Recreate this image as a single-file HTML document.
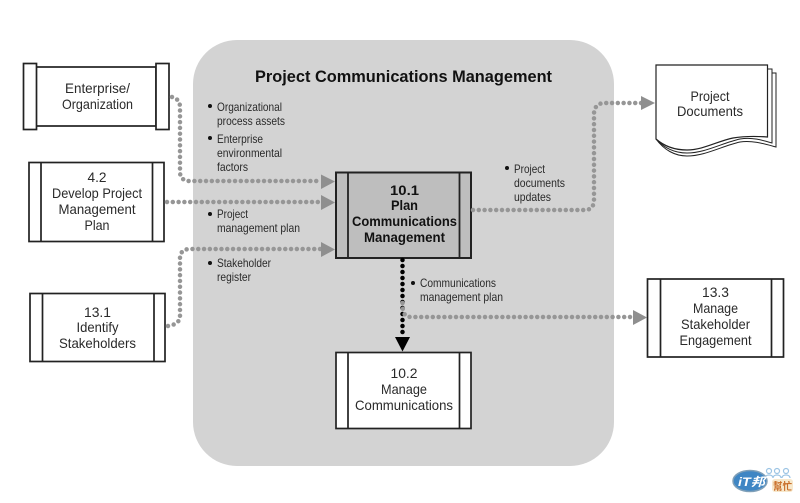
<!DOCTYPE html>
<html><head><meta charset="utf-8"><style>
html,body{margin:0;padding:0;background:#fff}
svg{display:block}
text{font-family:"Liberation Sans","Noto Sans CJK TC",sans-serif;fill:#222}
.n{font-size:14px;text-anchor:middle;fill:#2a2a2a}
.b{font-size:14px;text-anchor:middle;font-weight:bold;fill:#111}
.s{font-size:12px;fill:#2a2a2a}
.box{fill:#fff;stroke:#222;stroke-width:1.7}
.dot{fill:none;stroke:#969696;stroke-width:4.5;stroke-linecap:round;stroke-dasharray:0 5.8}
.ar{fill:#8f8f8f}
</style></head><body>
<svg width="800" height="503" viewBox="0 0 800 503" xmlns="http://www.w3.org/2000/svg" style="filter:blur(0.3px)">
<rect width="800" height="503" fill="#fff"/>
<rect x="193" y="40" width="421" height="426" rx="44" fill="#d3d3d3"/>
<text x="255" y="82" textLength="297" lengthAdjust="spacingAndGlyphs" style="font-size:16.5px;font-weight:bold;fill:#111">Project Communications Management</text>

<!-- Enterprise -->
<rect class="box" x="36" y="67" width="120" height="59"/>
<rect class="box" x="23.5" y="63.5" width="13" height="66"/>
<rect class="box" x="156" y="63.5" width="13" height="66"/>
<text class="n" x="97.500" y="93" textLength="65" lengthAdjust="spacingAndGlyphs">Enterprise/</text>
<text class="n" x="97.500" y="109" textLength="71" lengthAdjust="spacingAndGlyphs">Organization</text>

<!-- 4.2 -->
<rect class="box" x="29" y="162.5" width="135" height="79"/>
<path d="M41 162.5V241.5M152.500 162.500V241.500" stroke="#222" stroke-width="1.7"/>
<text class="n" x="97" y="182" textLength="19" lengthAdjust="spacingAndGlyphs">4.2</text>
<text class="n" x="97" y="198" textLength="90" lengthAdjust="spacingAndGlyphs">Develop Project</text>
<text class="n" x="97" y="214" textLength="77" lengthAdjust="spacingAndGlyphs">Management</text>
<text class="n" x="97" y="230" textLength="25" lengthAdjust="spacingAndGlyphs">Plan</text>

<!-- 13.1 -->
<rect class="box" x="30" y="293.500" width="135" height="68"/>
<path d="M42.500 293.500V361.500M154 293.500V361.500" stroke="#222" stroke-width="1.7"/>
<text class="n" x="97.500" y="317" textLength="27" lengthAdjust="spacingAndGlyphs">13.1</text>
<text class="n" x="97.500" y="332" textLength="42" lengthAdjust="spacingAndGlyphs">Identify</text>
<text class="n" x="97.500" y="348" textLength="77" lengthAdjust="spacingAndGlyphs">Stakeholders</text>

<!-- 10.1 -->
<rect x="336" y="172.500" width="135" height="85.500" fill="#bebebe" stroke="#222" stroke-width="2"/>
<path d="M348 172.500V258M459.500 172.500V258" stroke="#222" stroke-width="1.800"/>
<text class="b" x="404.500" y="195" textLength="29" lengthAdjust="spacingAndGlyphs">10.1</text>
<text class="b" x="404.500" y="210" textLength="27" lengthAdjust="spacingAndGlyphs">Plan</text>
<text class="b" x="404.500" y="226" textLength="105" lengthAdjust="spacingAndGlyphs">Communications</text>
<text class="b" x="404.500" y="242" textLength="81" lengthAdjust="spacingAndGlyphs">Management</text>

<!-- 10.2 -->
<rect class="box" x="336" y="352.500" width="135" height="76"/>
<path d="M348 352.500V428.500M459.500 352.500V428.500" stroke="#222" stroke-width="1.700"/>
<text class="n" x="404" y="378" textLength="27" lengthAdjust="spacingAndGlyphs">10.2</text>
<text class="n" x="404" y="394" textLength="46" lengthAdjust="spacingAndGlyphs">Manage</text>
<text class="n" x="404" y="410" textLength="98" lengthAdjust="spacingAndGlyphs">Communications</text>

<!-- 13.3 -->
<rect class="box" x="647.500" y="279" width="136" height="78"/>
<path d="M660.500 279V357M771.500 279V357" stroke="#222" stroke-width="1.700"/>
<text class="n" x="715.500" y="297" textLength="27" lengthAdjust="spacingAndGlyphs">13.3</text>
<text class="n" x="715.500" y="313" textLength="45" lengthAdjust="spacingAndGlyphs">Manage</text>
<text class="n" x="715.500" y="329" textLength="69" lengthAdjust="spacingAndGlyphs">Stakeholder</text>
<text class="n" x="715.500" y="345" textLength="72" lengthAdjust="spacingAndGlyphs">Engagement</text>

<!-- Project Documents -->
<path d="M656 139C664 150 675 156 687 156 705 156 722 146 740 142 752 140 765 144 776 147V73H770V100H656Z" fill="#fff" stroke="#222" stroke-width="1"/>
<path d="M656 139C664 148 675 153 687 153 705 153 722 143 740 139 752 137 762 140 772 143V69H767V100H656Z" fill="#fff" stroke="#222" stroke-width="1"/>
<path d="M656 65H767.500V137C755 136 745 136 733 138 718 141 703 150 687 150 675 150 664 146 656 139Z" fill="#fff" stroke="#222" stroke-width="1.200"/>
<text class="n" x="710" y="101" textLength="39" lengthAdjust="spacingAndGlyphs">Project</text>
<text class="n" x="710" y="116" textLength="66" lengthAdjust="spacingAndGlyphs">Documents</text>

<!-- Connectors -->
<path class="dot" d="M172 97C177 98 180 102 180 107V172C180 178 184 181 189 181H322"/>
<path class="ar" d="M321 174.500L335 181.500 321 189Z"/>
<path class="dot" d="M167 202H322"/>
<path class="ar" d="M321 195L335 202.500 321 210Z"/>
<path class="dot" d="M168 326C175 325 180 322 180 316V258C180 252 184 249 190 249H322"/>
<path class="ar" d="M321 242L335 249.500 321 257Z"/>
<path class="dot" d="M473 210H585C591 210 594 206 594 200V114C594 107 598 103 605 103H642"/>
<path class="ar" d="M641 96L655 103 641 110Z"/>
<path d="M402.500 260V338" fill="none" stroke="#000" stroke-width="4.500" stroke-linecap="round" stroke-dasharray="0 6"/>
<path class="ar" d="M633 310L647 317.500 633 325Z"/>
<path class="dot" d="M402.500 303C402.500 312 404 317 411 317H634"/>
<path d="M395 337H410L402.500 351.500Z" fill="#000"/>

<!-- Bullets -->
<g fill="#111">
<circle cx="210" cy="106" r="2"/><circle cx="210" cy="138" r="2"/><circle cx="210" cy="214" r="2"/><circle cx="210" cy="263" r="2"/><circle cx="507" cy="168" r="2"/><circle cx="413" cy="283" r="2"/>
</g>
<text class="s" x="217" y="111" textLength="65" lengthAdjust="spacingAndGlyphs">Organizational</text>
<text class="s" x="217" y="125" textLength="68" lengthAdjust="spacingAndGlyphs">process assets</text>
<text class="s" x="217" y="143" textLength="46" lengthAdjust="spacingAndGlyphs">Enterprise</text>
<text class="s" x="217" y="157" textLength="65" lengthAdjust="spacingAndGlyphs">environmental</text>
<text class="s" x="217" y="171" textLength="31" lengthAdjust="spacingAndGlyphs">factors</text>
<text class="s" x="217" y="218" textLength="31" lengthAdjust="spacingAndGlyphs">Project</text>
<text class="s" x="217" y="232" textLength="83" lengthAdjust="spacingAndGlyphs">management plan</text>
<text class="s" x="217" y="267" textLength="54" lengthAdjust="spacingAndGlyphs">Stakeholder</text>
<text class="s" x="217" y="281" textLength="34" lengthAdjust="spacingAndGlyphs">register</text>
<text class="s" x="514" y="173" textLength="31" lengthAdjust="spacingAndGlyphs">Project</text>
<text class="s" x="514" y="187" textLength="51" lengthAdjust="spacingAndGlyphs">documents</text>
<text class="s" x="514" y="201" textLength="37" lengthAdjust="spacingAndGlyphs">updates</text>
<text class="s" x="420" y="287" textLength="76" lengthAdjust="spacingAndGlyphs">Communications</text>
<text class="s" x="420" y="301" textLength="83" lengthAdjust="spacingAndGlyphs">management plan</text>

<!-- Logo -->
<g fill="#fff" stroke="#9cc4e4" stroke-width="1.200">
<circle cx="769" cy="471" r="2.500"/><circle cx="777" cy="471" r="2.500"/><circle cx="786" cy="471" r="2.500"/>
<path d="M765 478C765 474 773 474 773 478M773 478C773 474 781 474 781 478M782 478C782 474 790 474 790 478"/>
</g>
<rect x="772" y="479" width="21" height="13" rx="3" fill="#f7e8cc"/>
<ellipse cx="750" cy="481" rx="17" ry="10.500" fill="#3f86c4" stroke="#7f9fb8" stroke-width="1.500"/>
<text x="738" y="486" textLength="27" lengthAdjust="spacingAndGlyphs" style="font-size:12px;font-weight:bold;font-style:italic;fill:#fff">iT邦</text>
<text x="773" y="490" textLength="19" lengthAdjust="spacingAndGlyphs" style="font-size:10px;font-weight:bold;fill:#c96f2a">幫忙</text>
</svg>
</body></html>
